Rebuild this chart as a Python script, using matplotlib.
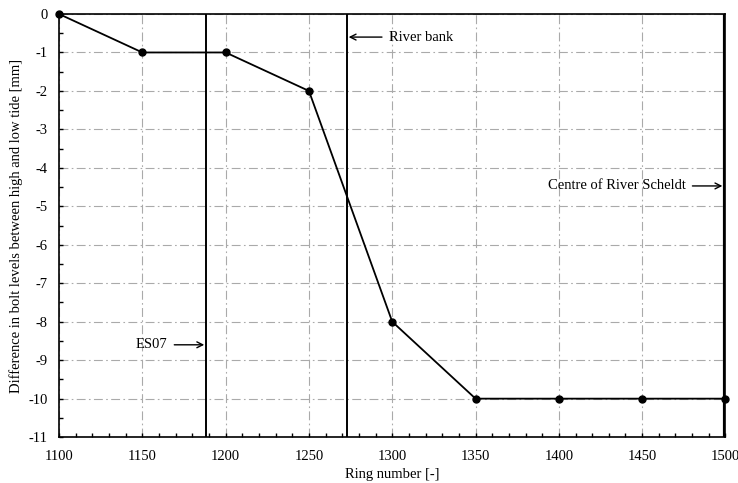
import numpy as np
import matplotlib.pyplot as plt
from matplotlib.ticker import MultipleLocator

plt.rcParams['font.family'] = ['Liberation Serif', 'DejaVu Serif']
plt.rcParams['font.size'] = 10
plt.rcParams['axes.unicode_minus'] = False

ring = [1100, 1150, 1200, 1250, 1300, 1350, 1400, 1450, 1500]
diff_mm = [0, -1, -1, -2, -8, -10, -10, -10, -10]

# positions of the marked locations along the tunnel
es07_ring = 1188
bank_ring = 1273
centre_ring = 1500


def plot_bolt_levels():
    fig = plt.figure(figsize=(7.38, 4.83), dpi=100)
    ax = fig.add_axes([0.080, 0.095, 0.903, 0.876])

    ax.plot(ring, diff_mm, color='black', lw=1.3, marker='o', ms=5, zorder=5, clip_on=False)

    ax.axvline(es07_ring, color='black', lw=1.4)
    ax.axvline(bank_ring, color='black', lw=1.4)
    ax.axvline(centre_ring, color='black', lw=3, zorder=6)

    arrow = dict(arrowstyle='->', color='black', lw=1, shrinkA=3, shrinkB=1)
    ax.annotate('ES07', xy=(es07_ring, -8.6), xytext=(es07_ring - 23, -8.6),
                ha='right', va='center', fontsize=10.5, arrowprops=arrow)
    ax.annotate('River bank', xy=(bank_ring, -0.6), xytext=(bank_ring + 25, -0.6),
                ha='left', va='center', fontsize=10.5, arrowprops=arrow)
    ax.annotate('Centre of River Scheldt', xy=(centre_ring - 1, -4.47), xytext=(centre_ring - 24, -4.47),
                ha='right', va='center', fontsize=10.5, arrowprops=arrow)

    ax.set_xlim(1100, 1500)
    ax.set_ylim(-11, 0)
    ax.xaxis.set_major_locator(MultipleLocator(50))
    ax.xaxis.set_minor_locator(MultipleLocator(10))
    ax.yaxis.set_major_locator(MultipleLocator(1))
    ax.yaxis.set_minor_locator(MultipleLocator(0.5))
    ax.tick_params(which='both', direction='in', top=False, right=False, length=3, width=1)
    ax.tick_params(axis='x', which='major', pad=9, labelsize=10.5)
    ax.tick_params(axis='y', which='major', pad=8, labelsize=10.5)

    ax.grid(True, which='major', color='#aaaaaa', ls=(0, (8, 3, 1.5, 3)), lw=0.8)
    for s in ax.spines.values():
        s.set_linewidth(1.2)

    ax.set_xlabel('Ring number [-]', fontsize=10.5)
    ax.set_ylabel('Difference in bolt levels between high and low tide [mm]', fontsize=10.5)

    fig.savefig('out.png', dpi=100)


plot_bolt_levels()
